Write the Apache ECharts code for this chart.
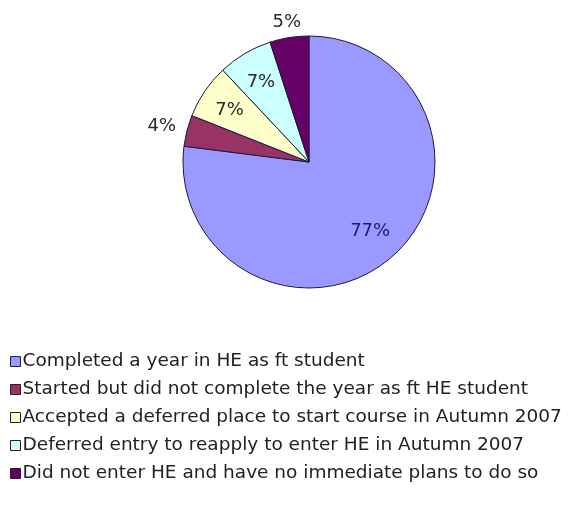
<!DOCTYPE html>
<html><head><meta charset="utf-8">
<script src="https://cdn.jsdelivr.net/npm/echarts@6/dist/echarts.min.js"></script>
<style>html,body{margin:0;padding:0;background:#fff}#c{width:571px;height:508px}</style>
</head><body><div id="c"></div>
<script>
const categories = [
  'Completed a year in HE as ft student',
  'Started but did not complete the year as ft HE student',
  'Accepted a deferred place to start course in Autumn 2007',
  'Deferred entry to reapply to enter HE in Autumn 2007',
  'Did not enter HE and have no immediate plans to do so'
];
const values = [77, 4, 7, 7, 5];
const colors = ['#9999FF', '#993366', '#FFFFCC', '#CCFFFF', '#660066'];
const outsideLabel = [false, true, false, false, true];
// small per-label nudges (padding) to mimic the original label placement
const labelPad = [[0, 0, 0, 0], [0, 20, 0, 0], [0, 6, 0, 0], [0, 2, 0, 0], [0, 0, 0, 0]];

const chart = echarts.init(document.getElementById('c'));
const center = [309, 162];
const R = 126;
const font = '"DejaVu Sans", Verdana, sans-serif';

const baseData = categories.map((n, i) => ({name: n, value: values[i], itemStyle: {color: colors[i]}}));
const labelData = (outside) => categories.map((n, i) => ({
  name: n, value: values[i],
  itemStyle: {color: 'rgba(0,0,0,0)', borderWidth: 0},
  label: {show: outsideLabel[i] === outside, padding: labelPad[i], color: i === 0 ? '#1c1c6c' : '#2a2a2a'}
}));

chart.setOption({
  backgroundColor: '#fff',
  animation: false,
  legend: {
    orient: 'vertical', left: 5, top: 347,
    itemWidth: 10, itemHeight: 10, itemGap: 9,
    icon: 'rect',
    selectedMode: false,
    data: categories.map((n, i) => ({name: n, itemStyle: {color: colors[i], borderColor: '#222', borderWidth: 1}})),
    textStyle: {fontFamily: font, fontSize: 18.5, color: '#222', lineHeight: 19, padding: [0, 0, 0, -3]}
  },
  series: [
    {
      type: 'pie', center: center, radius: [0, R], startAngle: 90, clockwise: true,
      silent: true, label: {show: false}, labelLine: {show: false},
      itemStyle: {borderColor: '#1a1a40', borderWidth: 1},
      data: baseData
    },
    {
      type: 'pie', center: center, radius: [R * 0.42, R], startAngle: 90, clockwise: true,
      silent: true, labelLine: {show: false},
      label: {position: 'inside', formatter: '{c}%', fontFamily: font, fontSize: 18},
      data: labelData(false)
    },
    {
      type: 'pie', center: center, radius: [R, R * 1.2], startAngle: 90, clockwise: true,
      silent: true, labelLine: {show: false},
      label: {position: 'inside', formatter: '{c}%', fontFamily: font, fontSize: 18},
      data: labelData(true)
    }
  ]
});
</script></body></html>
